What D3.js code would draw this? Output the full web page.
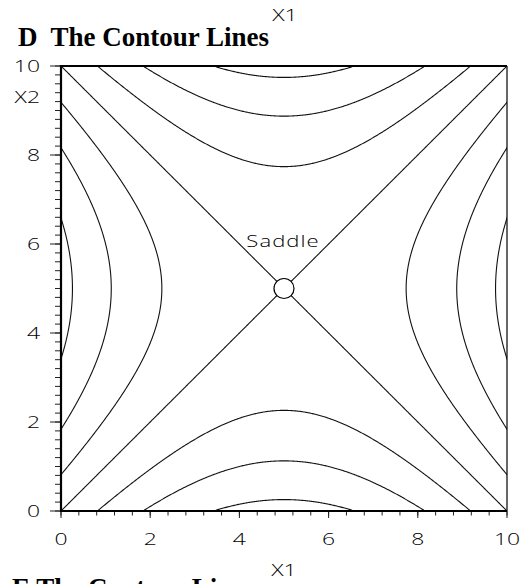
<!DOCTYPE html>
<html>
<head>
<meta charset="utf-8">
<script src="https://cdn.jsdelivr.net/npm/d3@7"></script>
<style>
  html, body { margin: 0; padding: 0; background: #fff; }
  svg { display: block; }
</style>
</head>
<body>
<svg id="chart" width="522" height="584"></svg>
<script>
// Quadratic response surface y = (X1 - c1)^2 - (X2 - c2)^2, drawn as contour lines
const saddlePoint = [5, 5];
const contourLevels = [-22.5, -15, -7.5, 0, 7.5, 15, 22.5];
const xMajorTicks = [0, 2, 4, 6, 8, 10];
const yMajorTicks = [0, 2, 4, 6, 8, 10];
const xMinorStep = 0.4;
const yMinorStep = 0.2;

const svg = d3.select("#chart");
const plot = { left: 61, top: 66, right: 507, bottom: 511 };

const x = d3.scaleLinear().domain([0, 10]).range([plot.left, plot.right]);
const y = d3.scaleLinear().domain([0, 10]).range([plot.bottom, plot.top]);

const labelFont = "'Open Sans', 'Liberation Sans', sans-serif";

// Horizontally stretched light sans label
function label(g, px, py, txt, anchor, size, sx) {
  return g.append("text")
    .attr("transform", `translate(${px},${py}) scale(${sx},1)`)
    .attr("text-anchor", anchor)
    .attr("font-family", labelFont)
    .attr("font-weight", 300)
    .attr("font-size", size)
    .attr("fill", "#000")
    .text(txt);
}

// Titles
svg.append("text")
  .attr("x", 18).attr("y", 46)
  .attr("font-family", "'Liberation Serif', 'Times New Roman', serif")
  .attr("font-weight", "bold").attr("font-size", 27)
  .attr("xml:space", "preserve")
  .text("D  The Contour Lines");

svg.append("text")
  .attr("x", 12).attr("y", 597)
  .attr("font-family", "'Liberation Serif', 'Times New Roman', serif")
  .attr("font-weight", "bold").attr("font-size", 27)
  .text("E The Contour Lines");

// X1 axis label of the panel above
label(svg, 285, 21, "X1", "middle", 17, 1.35);

// Contour lines
svg.append("clipPath").attr("id", "plotClip")
  .append("rect")
  .attr("x", plot.left).attr("y", plot.top)
  .attr("width", plot.right - plot.left).attr("height", plot.bottom - plot.top);

const [c1, c2] = saddlePoint;
const t = d3.range(0, 10.0001, 0.02);
const branches = [];
contourLevels.forEach(c => {
  if (c > 0) {
    branches.push(t.map(v => [c1 - Math.sqrt(c + (v - c2) ** 2), v]));
    branches.push(t.map(v => [c1 + Math.sqrt(c + (v - c2) ** 2), v]));
  } else if (c < 0) {
    branches.push(t.map(u => [u, c2 - Math.sqrt(-c + (u - c1) ** 2)]));
    branches.push(t.map(u => [u, c2 + Math.sqrt(-c + (u - c1) ** 2)]));
  } else {
    branches.push(t.map(u => [u, c2 + (u - c1)]));
    branches.push(t.map(u => [u, c2 - (u - c1)]));
  }
});

const line = d3.line().x(d => x(d[0])).y(d => y(d[1])).curve(d3.curveLinear);
svg.append("g").attr("clip-path", "url(#plotClip)")
  .selectAll("path").data(branches).join("path")
  .attr("d", line)
  .attr("fill", "none").attr("stroke", "#111").attr("stroke-width", 1.1);

// Frame: heavy left, bottom and top edges, thin right edge
const frame = svg.append("g").attr("stroke", "#000").attr("fill", "none");
frame.append("line").attr("x1", plot.left).attr("x2", plot.right)
  .attr("y1", plot.top).attr("y2", plot.top).attr("stroke-width", 2.2);
frame.append("line").attr("x1", plot.right).attr("x2", plot.right)
  .attr("y1", plot.top).attr("y2", plot.bottom).attr("stroke-width", 1.2);

// X axis (ticks pointing down)
const xMinor = d3.range(0, 10.0001, xMinorStep).map(v => +v.toFixed(2));
const xAxis = svg.append("g");
xAxis.selectAll("line.minor").data(xMinor).join("line")
  .attr("x1", d => x(d)).attr("x2", d => x(d))
  .attr("y1", plot.bottom).attr("y2", plot.bottom + 4.5)
  .attr("stroke", "#222").attr("stroke-width", 1);
xAxis.selectAll("line.major").data(xMajorTicks).join("line")
  .attr("x1", d => x(d)).attr("x2", d => x(d))
  .attr("y1", plot.bottom).attr("y2", plot.bottom + 7)
  .attr("stroke", "#222").attr("stroke-width", 1);
xMajorTicks.forEach(v => label(xAxis, x(v), 545, String(v), "middle", 17, 1.35));
xAxis.append("line").attr("x1", plot.left - 1).attr("x2", plot.right)
  .attr("y1", plot.bottom).attr("y2", plot.bottom)
  .attr("stroke", "#000").attr("stroke-width", 2.2);
label(xAxis, 284, 576, "X1", "middle", 17, 1.35);

// Y axis (ticks pointing left)
const yMinor = d3.range(0, 10.0001, yMinorStep).map(v => +v.toFixed(2));
const yAxis = svg.append("g");
yAxis.selectAll("line.minor").data(yMinor).join("line")
  .attr("x1", plot.left).attr("x2", plot.left - 6)
  .attr("y1", d => y(d)).attr("y2", d => y(d))
  .attr("stroke", "#222").attr("stroke-width", 1);
yAxis.selectAll("line.major").data(yMajorTicks).join("line")
  .attr("x1", plot.left).attr("x2", plot.left - 11)
  .attr("y1", d => y(d)).attr("y2", d => y(d))
  .attr("stroke", "#222").attr("stroke-width", 1);
yMajorTicks.forEach(v => label(yAxis, 40, y(v) + 6, String(v), "end", 17, 1.35));
yAxis.append("line").attr("x1", plot.left).attr("x2", plot.left)
  .attr("y1", plot.top - 1).attr("y2", plot.bottom + 1)
  .attr("stroke", "#000").attr("stroke-width", 2.2);
label(yAxis, 40, 103, "X2", "end", 17, 1.35);

// Stationary point
svg.append("circle")
  .attr("cx", x(saddlePoint[0])).attr("cy", y(saddlePoint[1])).attr("r", 10)
  .attr("fill", "#fff").attr("stroke", "#000").attr("stroke-width", 1.2);
label(svg, x(saddlePoint[0]) - 1, 247, "Saddle", "middle", 17, 1.3)
  .attr("letter-spacing", 0.8);
</script>
</body>
</html>
